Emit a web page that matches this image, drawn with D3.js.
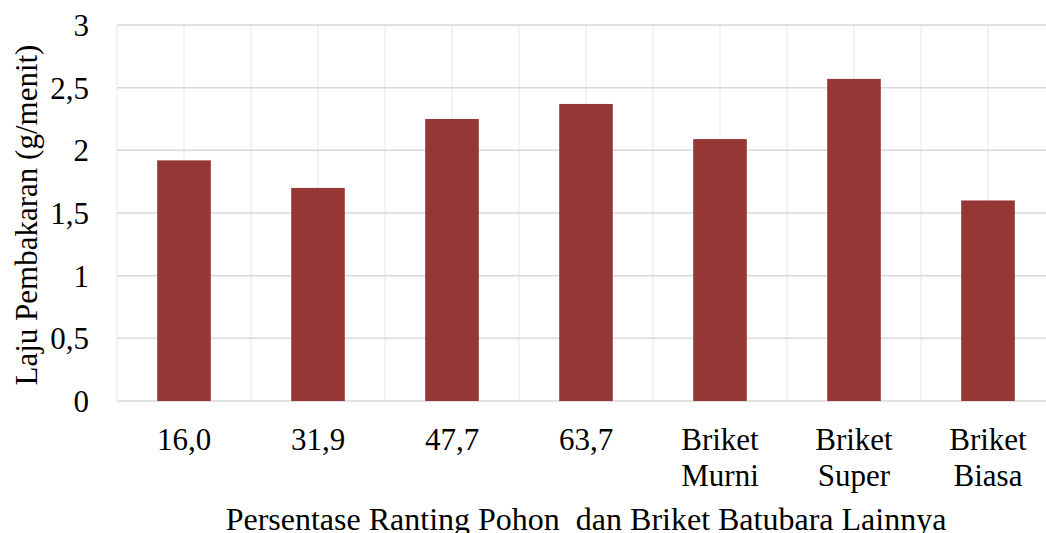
<!DOCTYPE html>
<html>
<head>
<meta charset="utf-8">
<script src="https://cdn.jsdelivr.net/npm/d3@7"></script>
<style>
  body { margin: 0; background: #fff; }
  svg text { font-family: 'Liberation Serif', 'Times New Roman', serif; fill: #000; }
</style>
</head>
<body>
<svg id="chart" width="1046" height="533"></svg>
<script>
// categories (multi-line labels split on \n)
const categories = ['16,0', '31,9', '47,7', '63,7', 'Briket\nMurni', 'Briket\nSuper', 'Briket\nBiasa'];
const values = [1.92, 1.70, 2.25, 2.37, 2.09, 2.57, 1.60];
const yTicks = [0, 0.5, 1, 1.5, 2, 2.5, 3];

const size = { width: 1046, height: 533 };
const margin = { left: 117, top: 25, right: -9, bottom: 132 };
const fontSize = '31px';

const svg = d3.select('#chart');

const x = d3
  .scaleBand()
  .domain(categories)
  .range([margin.left, size.width - margin.right])
  .paddingInner(0)
  .paddingOuter(0);

const y = d3
  .scaleLinear()
  .domain([0, 3])
  .range([size.height - margin.bottom, margin.top]);

// vertical gridlines at every half category
const grid = svg.append('g');
const vPos = [];
categories.forEach((c) => {
  vPos.push(x(c));
  vPos.push(x(c) + x.bandwidth() / 2);
});
grid
  .selectAll('line.v')
  .data(vPos)
  .join('line')
  .attr('x1', (d) => d)
  .attr('x2', (d) => d)
  .attr('y1', y(3))
  .attr('y2', y(0))
  .attr('stroke', '#efefef')
  .attr('stroke-width', 1.5);

grid
  .selectAll('line.h')
  .data(yTicks)
  .join('line')
  .attr('x1', margin.left)
  .attr('x2', size.width - margin.right)
  .attr('y1', (d) => y(d))
  .attr('y2', (d) => y(d))
  .attr('stroke', '#d9d9d9')
  .attr('stroke-width', 1.5);

// bars
const barW = x.bandwidth() * 0.4;
svg
  .selectAll('rect.bar')
  .data(values)
  .join('rect')
  .attr('x', (d, i) => x(categories[i]) + x.bandwidth() / 2 - barW / 2)
  .attr('y', (d) => y(d))
  .attr('width', barW)
  .attr('height', (d) => y(0) - y(d))
  .attr('fill', '#953735');

// y axis labels
const fmt = (d) => String(d).replace('.', ',');
svg
  .append('g')
  .selectAll('text')
  .data(yTicks)
  .join('text')
  .attr('x', 89)
  .attr('y', (d) => y(d))
  .attr('dy', '0.35em')
  .attr('text-anchor', 'end')
  .style('font-size', fontSize)
  .text(fmt);

// x axis labels
const xl = svg
  .append('g')
  .selectAll('text')
  .data(categories)
  .join('text')
  .attr('text-anchor', 'middle')
  .style('font-size', fontSize);
xl.selectAll('tspan')
  .data((d) => d.split('\n').map((t) => ({ t, c: d })))
  .join('tspan')
  .attr('x', (d) => x(d.c) + x.bandwidth() / 2)
  .attr('y', (d, i) => 450 + i * 36)
  .text((d) => d.t);

// axis titles (bottom one is clipped by the frame in the original too)
svg
  .append('text')
  .attr('x', 586)
  .attr('y', 530)
  .attr('text-anchor', 'middle')
  .style('font-size', '32px')
  .style('white-space', 'pre')
  .text('Persentase Ranting Pohon  dan Briket Batubara Lainnya');

svg
  .append('text')
  .attr('transform', `translate(37, ${(y(0) + y(3)) / 2 + 2}) rotate(-90)`)
  .attr('text-anchor', 'middle')
  .style('font-size', fontSize)
  .text('Laju Pembakaran (g/menit)');
</script>
</body>
</html>
